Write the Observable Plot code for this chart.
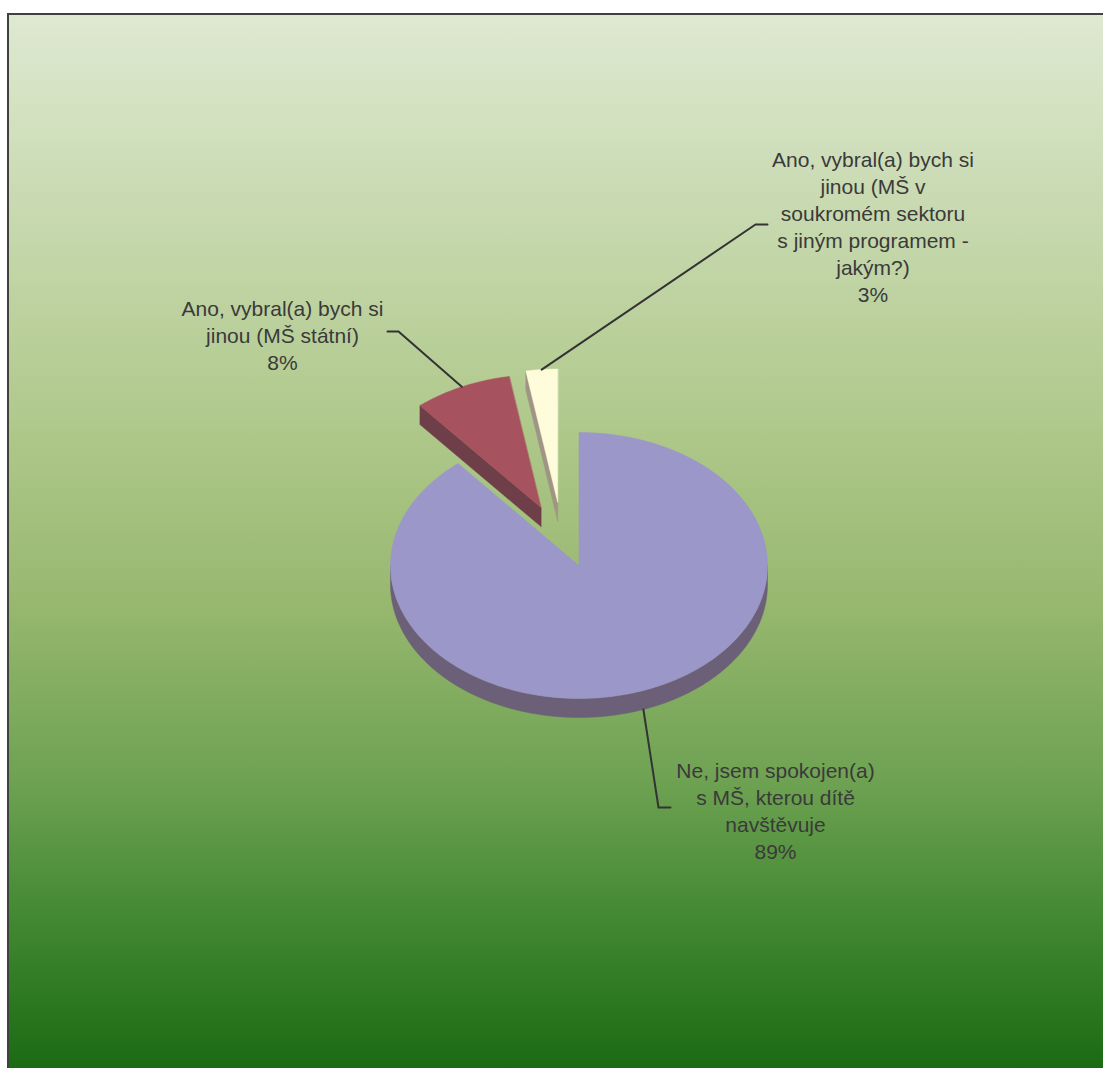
<!DOCTYPE html>
<html>
<head>
<meta charset="utf-8">
<script src="https://cdn.jsdelivr.net/npm/d3@7"></script>
<script src="https://cdn.jsdelivr.net/npm/@observablehq/plot@0.6"></script>
<style>
  html, body { margin: 0; padding: 0; background: #fff; }
  #wrap { position: relative; width: 1103px; height: 1068px; overflow: hidden; }
  #bg {
    position: absolute; left: 7px; top: 13px; right: -10px; bottom: -10px;
    border-left: 2px solid #404040; border-top: 2px solid #404040;
    background: linear-gradient(to bottom, #dee9d1 0%, #c6d8ad 20%, #b0c98c 38%, #98b870 55%, #6ea252 72%, #3f862f 86%, #186912 100%);
  }
  #chart { position: absolute; left: 0; top: 0; }
</style>
</head>
<body>
<div id="wrap"><div id="bg"></div><div id="chart"></div></div>
<script>
// ---- data ----
const categories = [
  "Ne, jsem spokojen(a) s MŠ, kterou dítě navštěvuje",
  "Ano, vybral(a) bych si jinou (MŠ státní)",
  "Ano, vybral(a) bych si jinou (MŠ v soukromém sektoru s jiným programem - jakým?)"
];
const values = [88.9, 8.4, 2.7];
const labelLines = [
  ["Ne, jsem spokojen(a)", "s MŠ, kterou dítě", "navštěvuje"],
  ["Ano, vybral(a) bych si", "jinou (MŠ státní)"],
  ["Ano, vybral(a) bych si", "jinou (MŠ v", "soukromém sektoru", "s jiným programem -", "jakým?)"]
];

// ---- styles / layout ----
const topColors = ["#9b97c9", "#a6525f", "#fffcdc"];
const sideColors = ["#6b6077", "#6e3f49", "#a09584"];
const explode = [0, 0.48, 0.49];
const explodeTurn = [0, 0, -8.5]; // degrees, visual direction adjustment
const geom = {cx: 578.5, cy: 565, rx: 188.5, ry: 133, depth: 19};
// label text block (x centre, y top of first line) and leader elbow / end
const labelLayout = [
  {x: 775, y: 758, elbow: [658, 807], end: [670, 807]},
  {x: 282, y: 296, elbow: [398, 331], end: [387, 331]},
  {x: 872.5, y: 147, elbow: [755, 224], end: [767, 224]}
];

const total = d3.sum(values);
const pie = d3.pie().sort(null).value(d => d).startAngle(0).endAngle(2 * Math.PI);
const arcs = pie(values);

const sides = [], tops = [], leaders = [], texts = [];
arcs.forEach((a, i) => {
  const mid = (a.startAngle + a.endAngle) / 2;
  const dir = mid + explodeTurn[i] * Math.PI / 180;
  const k = explode[i];
  const cx = geom.cx + k * geom.rx * Math.sin(dir);
  const cy = geom.cy - k * geom.ry * Math.cos(dir);
  const P = (t, dz = 0) => [cx + geom.rx * Math.sin(t), cy - geom.ry * Math.cos(t) + dz];
  const arcPts = (t0, t1, dz = 0) => {
    const n = Math.max(2, Math.ceil((t1 - t0) / (Math.PI / 180)) + 1);
    return d3.range(n).map(j => P(t0 + (t1 - t0) * j / (n - 1), dz));
  };
  const push = (arr, pts, id, fill) => pts.forEach(([x, y], j) => arr.push({x, y, id, fill, j}));
  // outer side wall (front half only)
  const t0 = Math.max(a.startAngle, Math.PI / 2), t1 = Math.min(a.endAngle, 3 * Math.PI / 2);
  if (t1 > t0) {
    push(sides, [...arcPts(t0, t1), ...arcPts(t0, t1, geom.depth).reverse()], `side-${i}`, sideColors[i]);
  }
  // radial cut faces
  [[a.startAngle, a.startAngle - Math.PI / 2], [a.endAngle, a.endAngle + Math.PI / 2]].forEach(([t, phi], m) => {
    if (Math.cos(phi) < -1e-6 && explode[i] > 0) {
      const c = [cx, cy], o = P(t);
      push(sides, [c, o, [o[0], o[1] + geom.depth], [c[0], c[1] + geom.depth]], `cut-${i}-${m}`, sideColors[i]);
    }
  });
  // top face
  push(tops, [[cx, cy], ...arcPts(a.startAngle, a.endAngle)], `top-${i}`, topColors[i]);
  // leader line
  const anchor = P(mid, i === 0 ? geom.depth : 0);
  const L = labelLayout[i];
  [anchor, L.elbow, L.end].forEach(([x, y], j) => leaders.push({x, y, id: i, j}));
  texts.push({x: L.x, y: L.y, text: [...labelLines[i], Math.round(values[i] / total * 100) + "%"].join("\n")});
});

const chart = Plot.plot({
  width: 1103,
  height: 1068,
  margin: 0,
  x: {domain: [0, 1103], range: [0, 1103], axis: null},
  y: {domain: [0, 1068], range: [0, 1068], axis: null},
  color: {type: "identity"},
  style: {background: "transparent", overflow: "visible"},
  marks: [
    Plot.line(sides, {x: "x", y: "y", z: "id", fill: "fill", stroke: "fill", strokeWidth: 0.5, curve: "linear-closed"}),
    Plot.line(tops, {x: "x", y: "y", z: "id", fill: "fill", stroke: "fill", strokeWidth: 0.5, curve: "linear-closed"}),
    Plot.line(leaders, {x: "x", y: "y", z: "id", stroke: "#333333", strokeWidth: 2}),
    Plot.text(texts, {
      x: "x", y: "y", text: "text", textAnchor: "middle", lineAnchor: "top",
      lineHeight: 1.29, fontSize: 21, fill: "#3a3a3a",
      fontFamily: "'Liberation Sans', Arial, sans-serif"
    })
  ]
});
document.getElementById("chart").appendChild(chart);
</script>
</body>
</html>
